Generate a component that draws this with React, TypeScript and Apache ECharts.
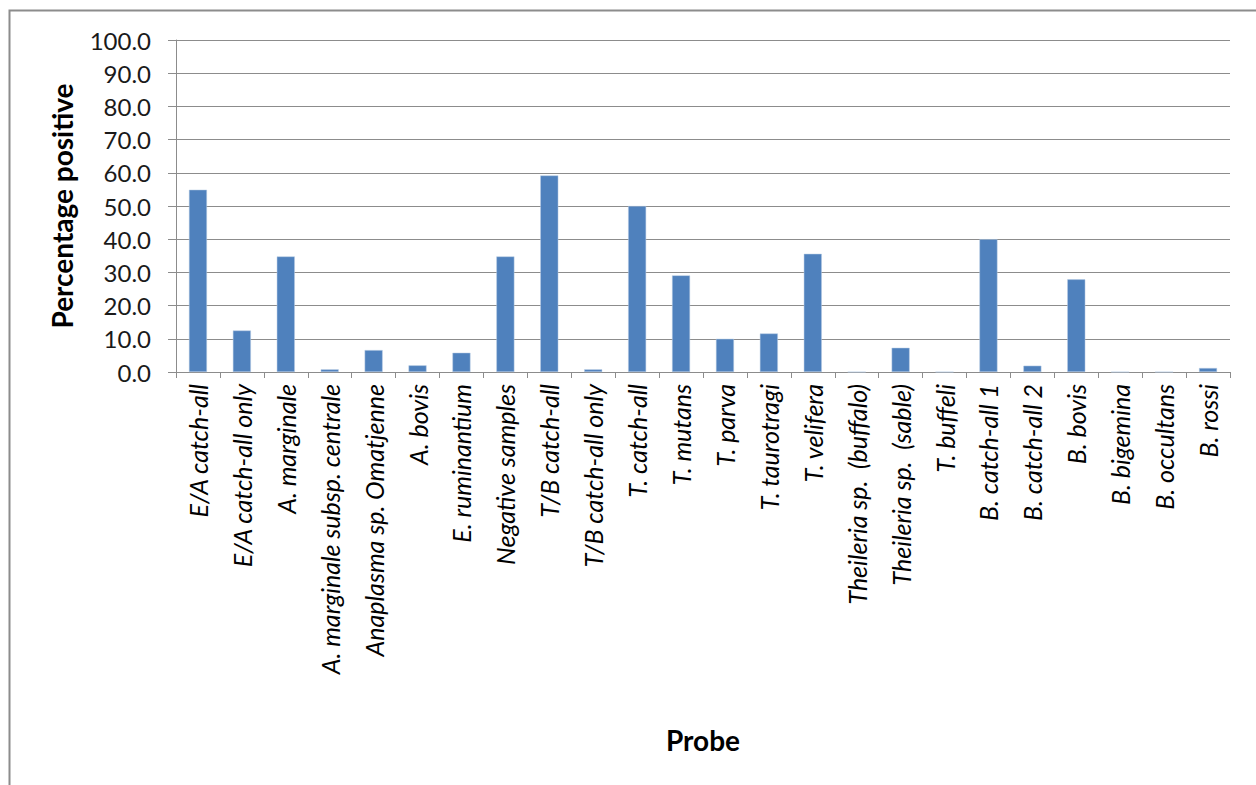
import React, { useEffect, useRef } from "react";
import * as echarts from "echarts";

// Probes tested
const probes: string[] = [
  "E/A catch-all",
  "E/A catch-all only",
  "A. marginale",
  "A. marginale subsp. centrale",
  "Anaplasma sp. Omatjenne",
  "A. bovis",
  "E. ruminantium",
  "Negative samples",
  "T/B catch-all",
  "T/B catch-all only",
  "T. catch-all",
  "T. mutans",
  "T. parva",
  "T. taurotragi",
  "T. velifera",
  "Theileria sp.\u00a0\u00a0(buffalo)",
  "Theileria sp.\u00a0\u00a0(sable)",
  "T. buffeli",
  "B. catch-all 1",
  "B. catch-all 2",
  "B. bovis",
  "B. bigemina",
  "B. occultans",
  "B. rossi",
];

// Percentage of samples positive for each probe
const percentPositive: number[] = [
  54.9, 12.5, 34.8, 0.8, 6.6, 2.0, 5.8, 34.8, 59.2, 0.8, 50.0, 29.1, 10.0,
  11.6, 35.6, 0, 7.3, 0, 40.0, 1.9, 27.9, 0, 0, 1.2,
];

const yTicks = { min: 0, max: 100, interval: 10 };

const FONT = "Lato, 'Open Sans', sans-serif";

export default function App() {
  const ref = useRef<HTMLDivElement>(null);

  useEffect(() => {
    if (!ref.current) return;
    const chart = echarts.init(ref.current, undefined, { renderer: "svg" });
    chart.setOption({
      animation: false,
      backgroundColor: "#ffffff",
      textStyle: { fontFamily: FONT },
      grid: { left: 176, right: 26, top: 40, bottom: 413 },
      xAxis: {
        type: "category",
        data: probes,
        boundaryGap: true,
        axisLine: { show: true, lineStyle: { color: "#8c8c8c", width: 1 } },
        axisTick: { show: true, length: 6, lineStyle: { color: "#8c8c8c" } },
        axisLabel: {
          interval: 0,
          rotate: 90,
          margin: 12,
          fontSize: 25,
          fontStyle: "italic",
          color: "#000000",
          fontFamily: FONT,
        },
      },
      yAxis: {
        type: "value",
        min: yTicks.min,
        max: yTicks.max,
        interval: yTicks.interval,
        name: "Percentage positive",
        nameLocation: "middle",
        nameGap: 100,
        nameTextStyle: {
          fontSize: 28,
          fontWeight: "bold",
          color: "#000000",
          fontFamily: FONT,
        },
        axisLine: { show: true, lineStyle: { color: "#8c8c8c", width: 1 } },
        axisTick: { show: true, length: 8, lineStyle: { color: "#8c8c8c" } },
        axisLabel: {
          margin: 25,
          fontSize: 24,
          color: "#1a1a1a",
          fontFamily: FONT,
          formatter: (v: number) => v.toFixed(1),
        },
        splitLine: { show: true, lineStyle: { color: "#8c8c8c", width: 1 } },
      },
      series: [
        {
          type: "bar",
          data: percentPositive,
          barWidth: 18,
          itemStyle: {
            color: "#4f81bd",
            borderColor: "#b9cde5",
            borderWidth: 0.5,
          },
        },
      ],
      graphic: [
        {
          type: "rect",
          shape: { x: 9.5, y: 10.5, width: 1400, height: 900 },
          style: { fill: "none", stroke: "#8c8c8c", lineWidth: 2 },
          silent: true,
        },
        {
          type: "text",
          x: 703,
          y: 740,
          style: {
            text: "Probe",
            fontSize: 28,
            fontWeight: "bold",
            fill: "#000000",
            fontFamily: FONT,
            align: "center",
            verticalAlign: "middle",
          },
        },
      ],
    });
    return () => chart.dispose();
  }, []);

  return (
    <div
      ref={ref}
      style={{ position: "fixed", left: 0, top: 0, width: 1256, height: 785 }}
    />
  );
}
